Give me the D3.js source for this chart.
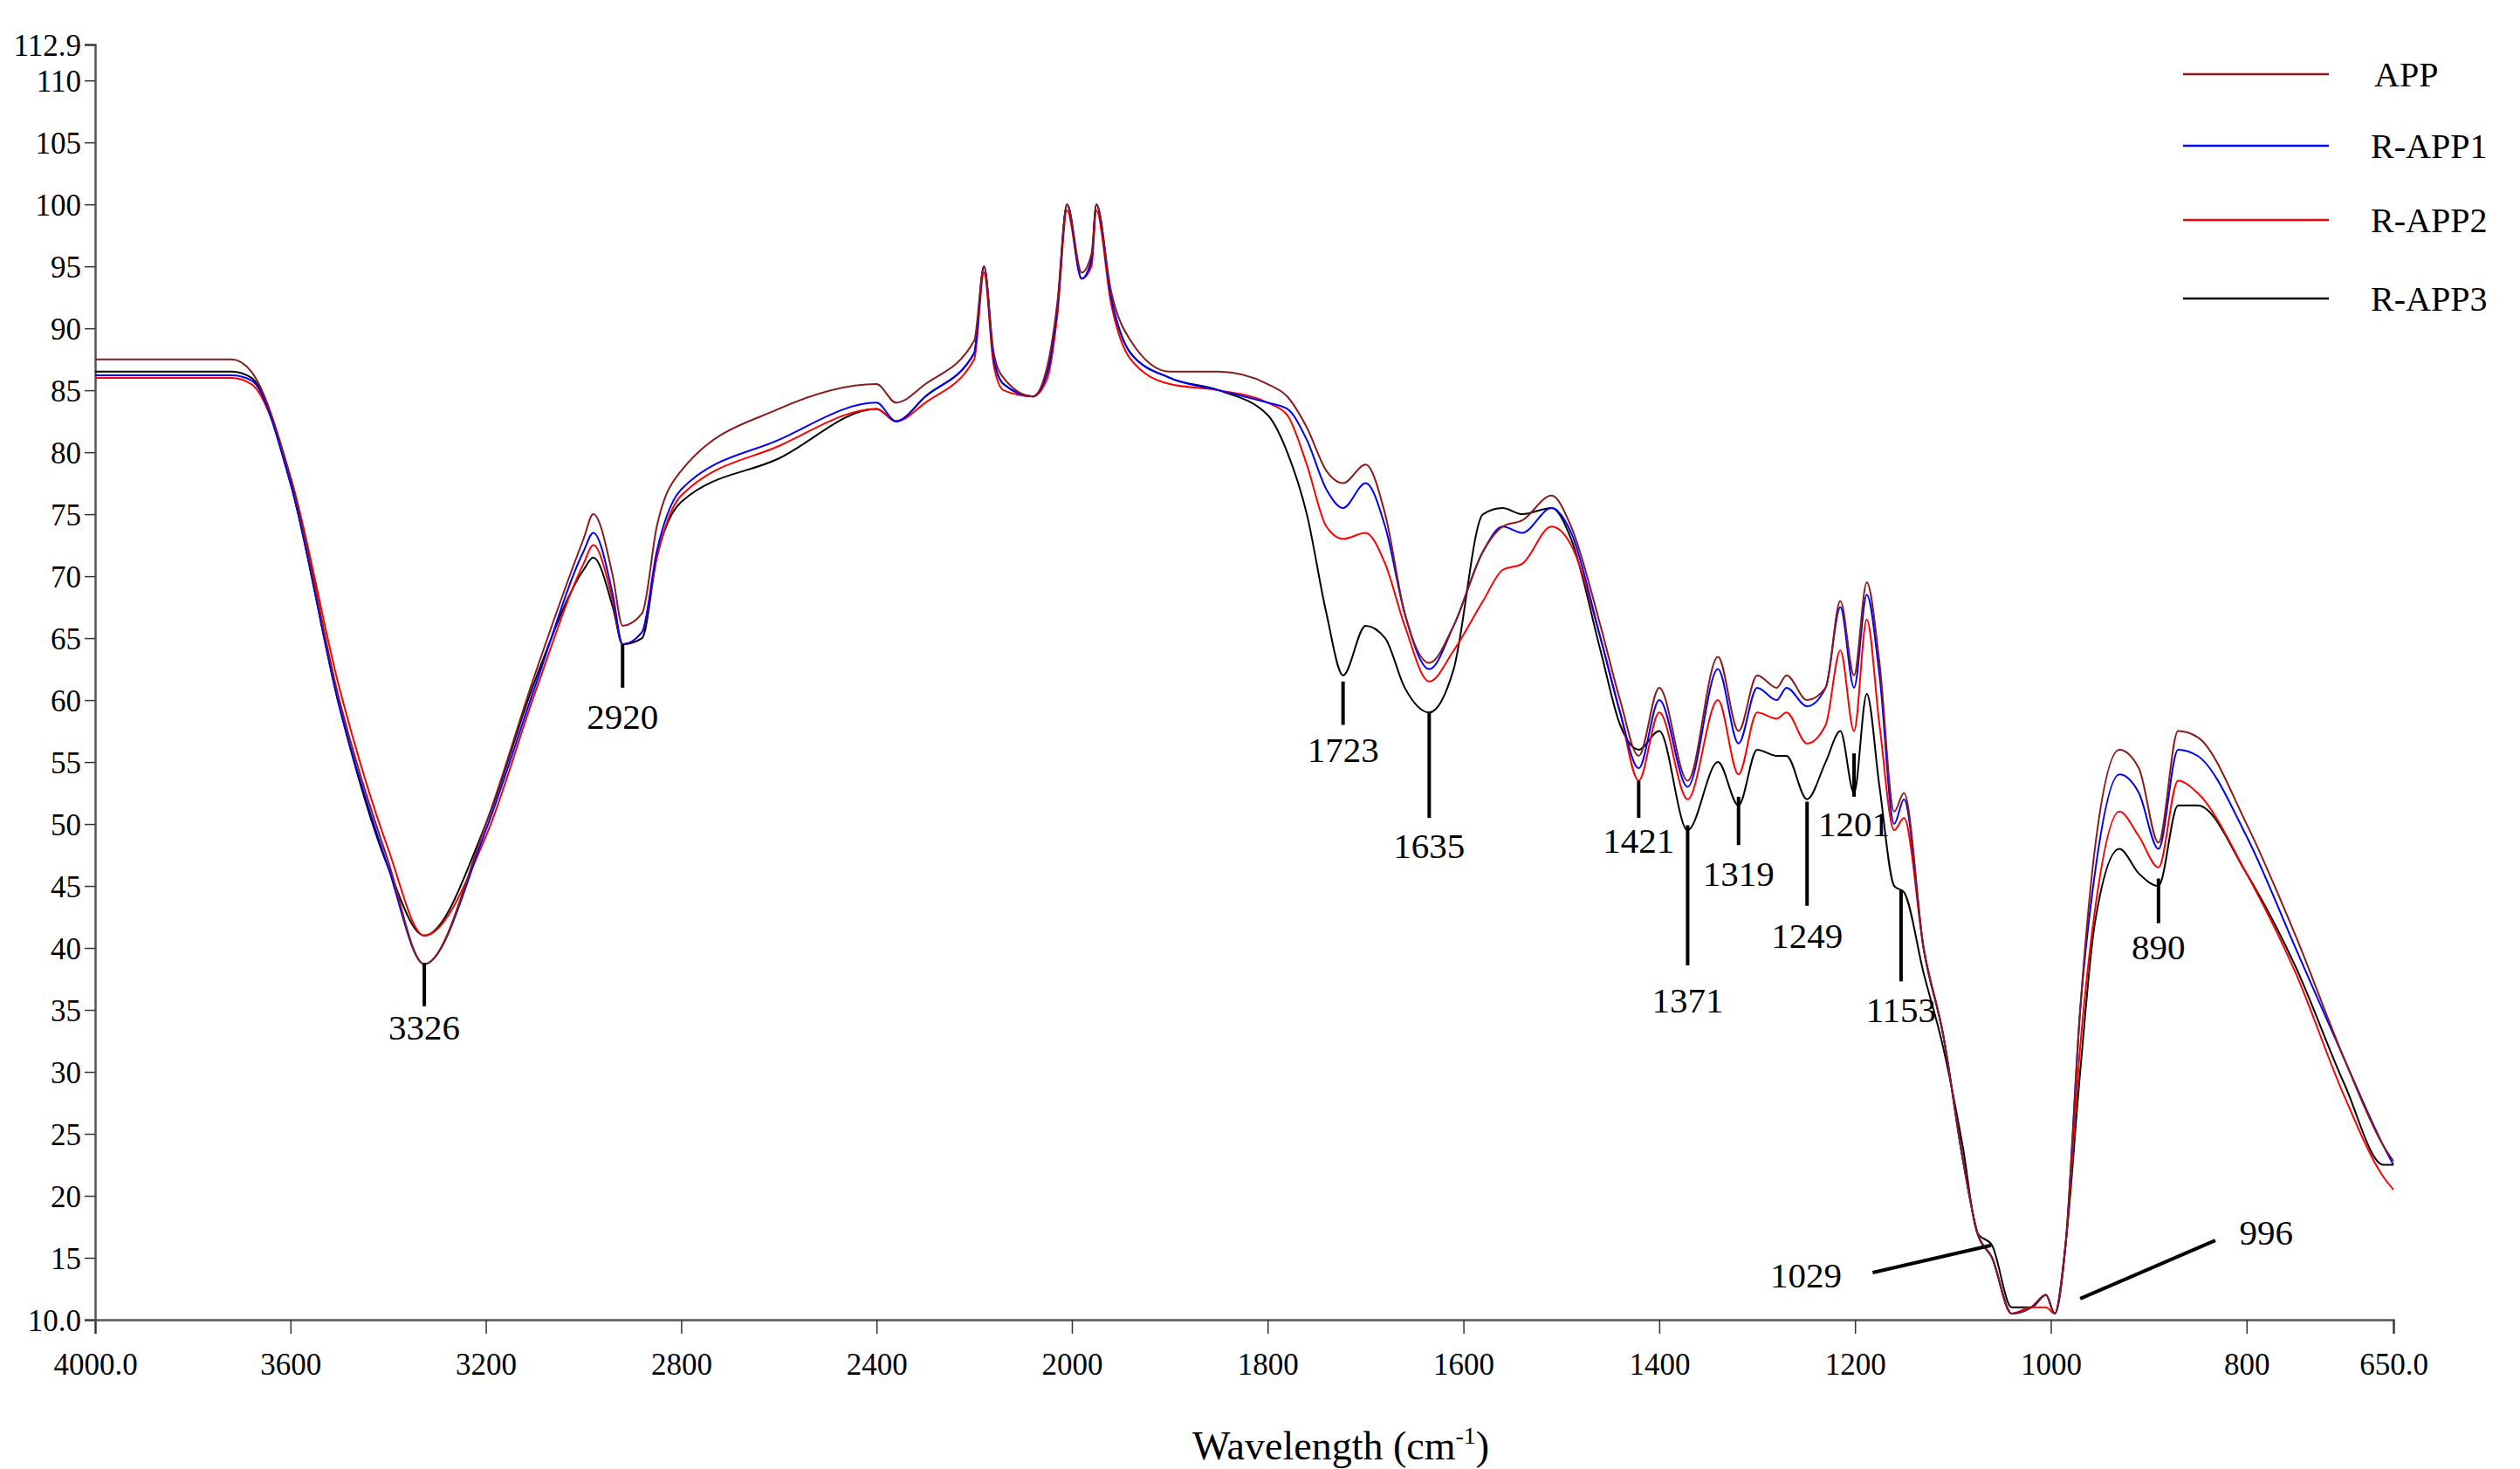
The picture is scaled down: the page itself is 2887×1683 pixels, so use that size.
<!DOCTYPE html>
<html><head><meta charset="utf-8">
<script src="https://cdn.jsdelivr.net/npm/d3@7"></script>
<style>body{margin:0;background:#fff}text{font-family:"Liberation Serif","Times New Roman",serif}</style>
</head><body><svg id="c" width="2887" height="1683"></svg>
<script>
const wavenumbers=[4000,3720,3680,3600,3500,3400,3326,3200,3100,3000,2980,2940,2920,2880,2850,2800,2600,2400,2360,2300,2200,2180,2160,2140,2080,2050,2030,2010,1990,1980,1975,1960,1940,1900,1850,1800,1780,1760,1740,1723,1700,1680,1660,1635,1610,1580,1560,1540,1510,1490,1460,1440,1421,1400,1371,1340,1319,1300,1280,1270,1249,1230,1215,1201,1188,1175,1160,1150,1130,1110,1090,1075,1060,1040,1020,1005,996,985,970,955,930,910,890,870,850,800,750,700,660,650];
const APP=[87.5,87.5,86.5,78,60,47,38.7,50,62,73,75,70,66,67,74,78.5,83.5,85.5,84,85.5,89,95,88,86,84.5,87,92,100,94.5,96,100,93,89,86.5,86.5,85.5,84.5,82,78.5,77.5,79,75,67,63,66,72,74,74.5,76.5,74,66,60,55.5,61,53.5,63.5,57.5,62,61,62,60,61,68,62,69.5,63,51,52.5,40,33,23,17,15,10.5,11,12,10.5,16,35,48,56,54.5,48.5,57.5,57,50,41,31,24,22.8];
const RAPP1=[86.2,86.2,85.8,77.5,59.5,46.5,38.7,49.5,61,72,73.5,68.5,64.5,65.5,72,77,81,84,82.5,84.5,88,95,87.5,85.5,84.5,86.5,91.5,100,94,95.5,100,92.5,88,86,85,84,83.5,81,77,75.5,77.5,74,67,62.5,66,72,74,73.5,75.5,73.5,65,59,54.5,60,53,62.5,56.5,61,60,61,59.5,61,67.5,61,68.5,62,50,52,40,33,23,17,15,10.5,11,12,10.5,16,35,46,54,52.5,48,56,55.5,49,40,31,24,22.5];
const RAPP2=[86,86,85.5,78,61,48,41,49,60.5,71,72.5,68,64.5,65.5,71.5,76.5,80.5,83.5,82.5,84,87.5,94.5,87,85,84.5,86,91,99.5,94,95,99.5,92,87.5,85.5,85,84,83,79,74,73,73.5,71,66,61.5,64,68,70.5,71,74,72.5,65,59,53.5,59,52,60,54,59,58.5,59,56.5,58,64,57.5,66.5,58,49.5,50.5,40,33,23,17,15,10.5,11,11,10.5,16,32,43,51,49,46.5,53.5,52.5,46,38,28,21.5,20.5];
const RAPP3=[86.5,86.5,86,77.5,59.5,46.5,41,50,61.5,70.5,71.5,67.5,64.5,65,71.5,76,79.5,83.5,82.5,84.5,88,95,87.5,85.5,84.5,86.5,91.5,100,94,95.5,100,92.5,88,86,85,83,80,75,67,62,66,65,61,59,62.5,75,75.5,75,75.5,73,64,58,56,57.5,49.5,55,51.5,56,55.5,55.5,52,55,57.5,52.5,60.5,53,45,44.5,38,32,24,17,16,11,11,12,10.5,16,30,42,48,46,45,51.5,51.5,46,38.5,29,22.5,22.5];
const seriesNames=["APP","R-APP1","R-APP2","R-APP3"];
const seriesColors=["#8b1a1a","#0000ff","#ff0000","#000000"];
const xTicks=[4000,3600,3200,2800,2400,2000,1800,1600,1400,1200,1000,800,650];
const yTicks=[10,15,20,25,30,35,40,45,50,55,60,65,70,75,80,85,90,95,100,105,110,112.9];
// vertical peak markers: label, wavenumber, line top, line bottom, label y
const peaks=[["3326",3326,38.8,35.3,33.6],["2920",2920,64.5,61,58.7],["1723",1723,61.5,58,56],["1635",1635,59,50.5,48.3],["1421",1421,53.5,50.5,48.7],["1371",1371,49.9,38.6,35.8],["1319",1319,52.2,48.3,46],["1249",1249,51.8,43.4,41],["1201",1201,55.7,52.2,50],["1153",1153,44.7,37.3,35],["890",890,45.6,42,40.1]];
// slanted markers: label, from wn, from val, to wn, to val, label wn, label val
const slanted=[["1029",1182,13.8,1061,16,1250,13.6],["996",970,11.7,832,16.4,780,17.1]];

const svg=d3.select("#c");
const x=d3.scaleLinear().domain([4000,2000,650]).range([109,1228,2742]);
const y=d3.scaleLinear().domain([10,112.9]).range([1512,51]);
const fmtX=d=>(d===4000||d===650)?d.toFixed(1):String(d);
const fmtY=d=>(d===10)?"10.0":String(d);

const xa=svg.append("g").attr("transform","translate(0,1512)").call(d3.axisBottom(x).tickValues(xTicks).tickFormat(fmtX).tickSize(16).tickPadding(22));
const ya=svg.append("g").attr("transform","translate(109,0)").call(d3.axisLeft(y).tickValues(yTicks).tickFormat(fmtY).tickSize(12).tickPadding(4));
[xa,ya].forEach(a=>{a.selectAll("text").attr("font-size",35).attr("fill","#000").style("font-family","'Liberation Serif',serif");a.select(".domain").attr("stroke","#555").attr("stroke-width",2.5);a.selectAll(".tick line").attr("stroke","#333").attr("stroke-width",1.5);});
ya.selectAll("text").attr("dy","0.35em");

const data=[APP,RAPP1,RAPP2,RAPP3];
const line=d3.line().x(d=>x(d[0])).y(d=>y(d[1])).curve(d3.curveMonotoneX);
[3,2,1,0].forEach(i=>{
  const pts=wavenumbers.map((w,j)=>[w,data[i][j]]);
  svg.append("path").attr("d",line(pts)).attr("fill","none").attr("stroke",seriesColors[i]).attr("stroke-width",2);
});

peaks.forEach(p=>{
  svg.append("line").attr("x1",x(p[1])).attr("x2",x(p[1])).attr("y1",y(p[2])).attr("y2",y(p[3])).attr("stroke","#000").attr("stroke-width",4);
  svg.append("text").attr("x",x(p[1])).attr("y",y(p[4])).attr("dy","0.35em").attr("text-anchor","middle").attr("font-size",41).text(p[0]);
});
slanted.forEach(s=>{
  svg.append("line").attr("x1",x(s[1])).attr("y1",y(s[2])).attr("x2",x(s[3])).attr("y2",y(s[4])).attr("stroke","#000").attr("stroke-width",4);
  svg.append("text").attr("x",x(s[5])).attr("y",y(s[6])).attr("dy","0.35em").attr("text-anchor","middle").attr("font-size",41).text(s[0]);
});

seriesNames.forEach((n,i)=>{
  const yy=[85,167,252,342][i];
  svg.append("line").attr("x1",2501).attr("x2",2668).attr("y1",yy).attr("y2",yy).attr("stroke",seriesColors[i]).attr("stroke-width",2.5);
  svg.append("text").attr("x",i===0?2720:2716).attr("y",yy).attr("dy","0.35em").attr("font-size",40).text(n);
});

const t=svg.append("text").attr("x",1536).attr("y",1672).attr("text-anchor","middle").attr("font-size",46);
t.append("tspan").text("Wavelength (cm");
t.append("tspan").attr("font-size",28).attr("dy",-18).text("-1");
t.append("tspan").attr("dy",18).text(")");
</script></body></html>
